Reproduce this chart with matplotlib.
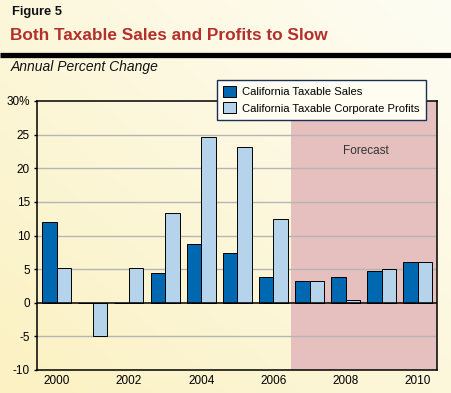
import numpy as np
import matplotlib
matplotlib.use("Agg")
import matplotlib.pyplot as plt
from matplotlib.patches import Patch

years = [2000, 2001, 2002, 2003, 2004, 2005, 2006, 2007, 2008, 2009, 2010]
sales = [12.0, 0.0, 0.0, 4.4, 8.7, 7.4, 3.9, 3.2, 3.8, 4.7, 6.0]
profits = [5.1, -4.9, 5.1, 13.3, 24.7, 23.1, 12.4, 3.2, 0.4, 5.0, 6.0]
xtick_labels = ["2000", "2002", "2004", "2006", "2008", "2010"]
ytick_values = [-10, -5, 0, 5, 10, 15, 20, 25, 30]
ytick_labels = ["-10", "-5", "0", "5", "10", "15", "20", "25", "30%"]
series_names = ["California Taxable Sales", "California Taxable Corporate Profits"]
forecast_start = 2006.5

plt.rcParams['font.family'] = ['Liberation Sans', 'DejaVu Sans']

fig = plt.figure(figsize=(4.52, 3.93), dpi=100)

# gradient background
bg = fig.add_axes([0, 0, 1, 1], zorder=-10)
nx, ny = 200, 200
xx, yy = np.meshgrid(np.linspace(0, 1, nx), np.linspace(0, 1, ny))
t = (xx + yy) / 2.0
c0 = np.array([0xfb, 0xf1, 0xc2]) / 255.0
c1 = np.array([0xfe, 0xfd, 0xf4]) / 255.0
img = c0[None, None, :] * (1 - t[..., None]) + c1[None, None, :] * t[..., None]
bg.imshow(img, origin='lower', extent=[0, 1, 0, 1], aspect='auto')
bg.set_xlim(0, 1)
bg.set_ylim(0, 1)
bg.axis('off')

# header
fig.text(12 / 452, 1 - 12 / 393, "Figure 5", fontsize=9.3, fontweight='bold',
         color='#111111', va='center', ha='left')
fig.text(10 / 452, 1 - 35.5 / 393, "Both Taxable Sales and Profits to Slow", fontsize=12.45,
         fontweight='bold', color='#b3302c', va='center', ha='left')
bg.plot([0, 1], [1 - 55 / 393, 1 - 55 / 393], color='black', lw=3.8, solid_capstyle='butt')
fig.text(11 / 452, 1 - 67 / 393, "Annual Percent Change", fontsize=10, fontstyle='italic',
         color='#111111', va='center', ha='left')

ax = fig.add_axes([37 / 452, 1 - 370 / 393, (436.7 - 37) / 452, (370 - 101) / 393])
ax.patch.set_alpha(0)

x = np.array(years, dtype=float)
w = 0.4
ax.set_xlim(1999.455, 2010.52)
ax.set_ylim(-10, 30)
ax.axvspan(forecast_start, 2010.52, color='#e5c0be', zorder=0, lw=0)
for v in ytick_values:
    if v not in (-10, 0, 30):
        ax.axhline(v, color='#b5b5b5', lw=1.0, zorder=1)

ax.bar(x - w / 2, sales, width=w, color='#0067b1', edgecolor='black', lw=0.7, zorder=3,
       label=series_names[0])
ax.bar(x + w / 2, profits, width=w, color='#b5d3ea', edgecolor='black', lw=0.7, zorder=3,
       label=series_names[1])
ax.axhline(0, color='black', lw=1.1, zorder=4)

ax.text(2008.56, 22.5, "Forecast", fontsize=8.5, color='#333333', ha='center', va='center')

ax.set_yticks(ytick_values)
ax.set_yticklabels(ytick_labels)
ax.set_xticks([int(s) for s in xtick_labels])
ax.set_xticklabels(xtick_labels)
ax.tick_params(axis='y', length=2, width=1, pad=3, labelsize=8.5, colors='black')
ax.tick_params(axis='x', length=0, pad=3.5, labelsize=8.5)
for s in ax.spines.values():
    s.set_color('black')
    s.set_linewidth(1.1)

handles = [Patch(facecolor='#0067b1', edgecolor='black', lw=0.7),
           Patch(facecolor='#b5d3ea', edgecolor='black', lw=0.7)]
leg = fig.legend(handles, series_names, loc='upper left', bbox_to_anchor=(217 / 452, 1 - 80 / 393),
                 fontsize=8.1, frameon=True, fancybox=False, handlelength=1.1, handleheight=1.1,
                 handletextpad=0.6, borderpad=0.55, labelspacing=0.45, borderaxespad=0)
leg.get_frame().set_edgecolor('#1a2f55')
leg.get_frame().set_facecolor('#fffdf2')
leg.get_frame().set_alpha(1)
leg.get_frame().set_linewidth(1.0)

fig.savefig("out.png", dpi=100)
